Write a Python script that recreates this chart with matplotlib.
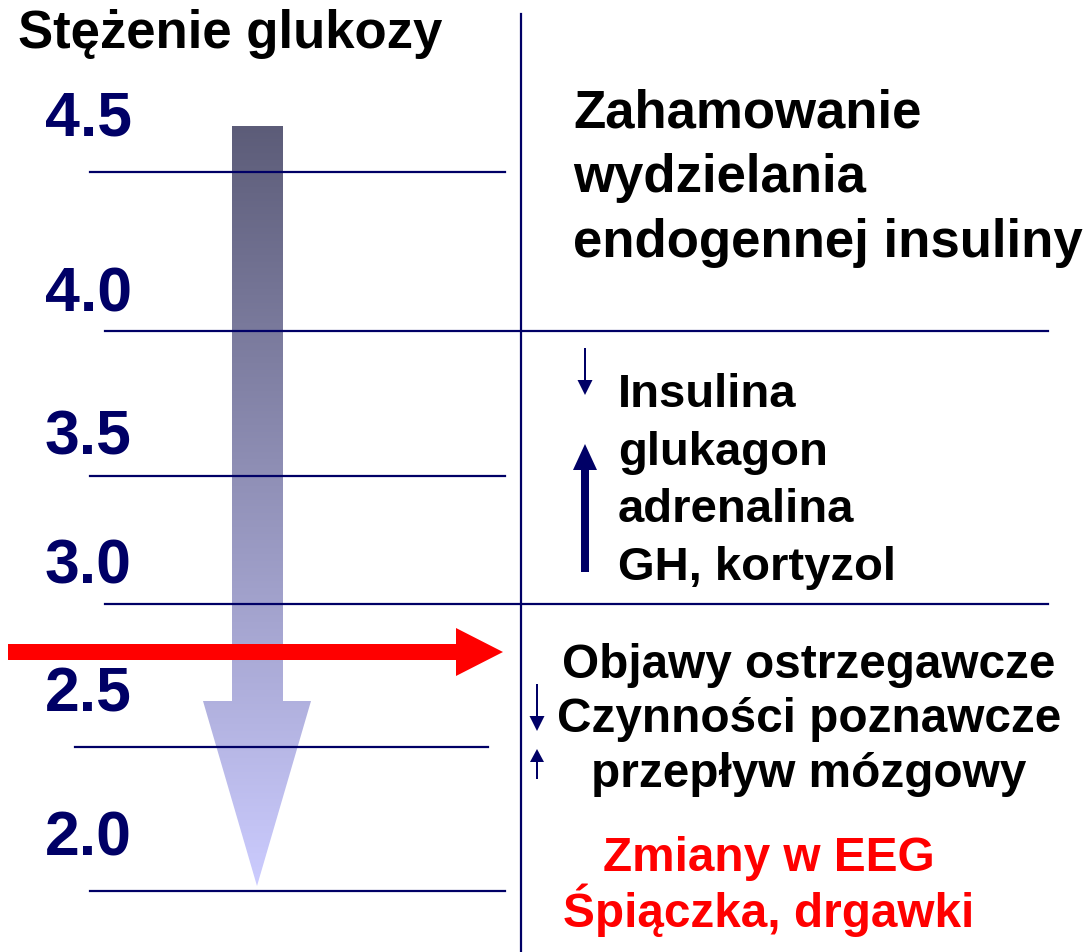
import numpy as np
import matplotlib.pyplot as plt
from matplotlib.patches import Polygon, FancyArrow

plt.rcParams['font.family'] = ['Liberation Sans', 'DejaVu Sans']

NAVY = '#000066'

title = 'Stężenie glukozy'
levels = ['4.5', '4.0', '3.5', '3.0', '2.5', '2.0']
level_base = [135, 312, 455, 584, 712, 856]

block1 = ['Zahamowanie', 'wydzielania', 'endogennej insuliny']
block2 = ['Insulina', 'glukagon', 'adrenalina', 'GH, kortyzol']
block3 = ['Objawy ostrzegawcze', 'Czynności poznawcze', 'przepływ mózgowy']
block4 = ['Zmiany w EEG', 'Śpiączka, drgawki']

W, H = 1091, 953
fig = plt.figure(figsize=(W / 100, H / 100), dpi=100)
ax = fig.add_axes([0, 0, 1, 1])
ax.axis('off')

# gradient arrow
arrow = np.array([[232, 127], [283, 127], [283, 702], [311, 702], [257, 887],
                  [203, 702], [232, 702]])
grad = np.linspace(0, 1, 256)[:, None]
c0 = np.array([0x5c, 0x5c, 0x78]) / 255
c1 = np.array([0xcc, 0xcc, 0xff]) / 255
img = c0[None, None, :] * (1 - grad[..., None]) + c1[None, None, :] * grad[..., None]
img = np.repeat(img, 2, axis=1)
im = ax.imshow(img, extent=(200, 315, 890, 125), aspect='auto', zorder=1)
poly = Polygon(arrow, closed=True, facecolor='none', edgecolor='none')
ax.add_patch(poly)
im.set_clip_path(poly)
ax.set_xlim(0, W)
ax.set_ylim(H, 0)

# horizontal and vertical lines
hlines = [(173, 90, 505), (332, 105, 1048), (477, 90, 505), (605, 105, 1048),
          (748, 75, 488), (892, 90, 505)]
for y, x0, x1 in hlines:
    ax.plot([x0, x1], [y, y], color=NAVY, lw=1.6, zorder=2)
ax.plot([521, 521], [15, H], color=NAVY, lw=1.6, zorder=2)

# red arrow
ax.add_patch(FancyArrow(8, 653, 495, 0, width=16, head_width=48, head_length=47,
                        length_includes_head=True, color='#ff0000', lw=0, zorder=3))

# small navy arrows
ax.add_patch(FancyArrow(585, 349, 0, 47, width=2, head_width=15, head_length=15,
                        length_includes_head=True, color=NAVY, lw=0, zorder=3))
ax.add_patch(FancyArrow(585, 573, 0, -128, width=8, head_width=24, head_length=26,
                        length_includes_head=True, color=NAVY, lw=0, zorder=3))
ax.add_patch(FancyArrow(537, 685, 0, 47, width=2, head_width=15, head_length=15,
                        length_includes_head=True, color=NAVY, lw=0, zorder=3))
ax.add_patch(FancyArrow(537, 780, 0, -30, width=2, head_width=14, head_length=13,
                        length_includes_head=True, color=NAVY, lw=0, zorder=3))

# text
ax.text(18, 48, title, fontsize=38, fontweight='bold', color='black', va='baseline')
for lab, yb in zip(levels, level_base):
    ax.text(45, yb, lab, fontsize=45, fontweight='bold', color=NAVY, va='baseline')

for t, yb in zip(block1, [128, 192, 257]):
    ax.text(573, yb, t, fontsize=38, fontweight='bold', va='baseline')
for t, yb in zip(block2, [407, 465, 522, 580]):
    ax.text(618, yb, t, fontsize=34, fontweight='bold', va='baseline')
for t, yb in zip(block3, [678, 732, 787]):
    ax.text(809, yb, t, fontsize=34.4, fontweight='bold', va='baseline', ha='center')
for t, yb in zip(block4, [871, 927]):
    ax.text(769, yb, t, fontsize=34.4, fontweight='bold', va='baseline', ha='center',
            color='#ff0000')

fig.savefig('out.png', dpi=100)
